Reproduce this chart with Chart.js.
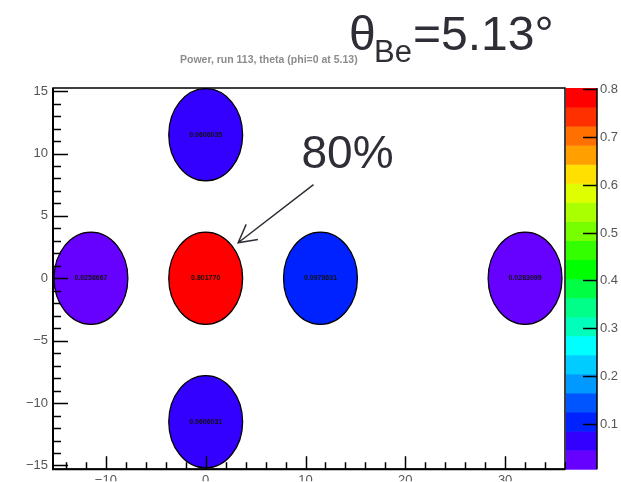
<!DOCTYPE html>
<html>
<head>
<meta charset="utf-8">
<script src="https://cdn.jsdelivr.net/npm/chart.js@4/dist/chart.umd.min.js"></script>
<style>
  body { margin: 0; background: #fff; }
  canvas { display: block; }
</style>
</head>
<body>
<canvas id="chart" width="621" height="482"></canvas>
<script>
// bin centres (cm) and contents
const xCenters = [0, -11.5, 0, 11.5, 32, 0];
const yCenters = [11.5, 0, 0, 0, 0, -11.5];
const zValues  = [0.0606035, 0.0258667, 0.801770, 0.0978631, 0.0283099, 0.0606031];
const binRadius = 3.7;

// colour palette, bottom band to top band
const zColors = ['#6600ff','#3300ff','#0022ff','#0055ff','#0099ff','#00ccff','#00ffff','#00ffbb',
                 '#00ff88','#00ff44','#00ff00','#33ff00','#77ff00','#aaff00','#ddff00','#ffe000',
                 '#ffa000','#ff7000','#ff3000','#ff0000'];
const zTicks = [0.1, 0.2, 0.3, 0.4, 0.5, 0.6, 0.7, 0.8];
const zMin = 0.006, zMax = 0.8018;

const FONT = '"Liberation Sans", Arial, Helvetica, sans-serif';

function bandOf(v) {
  let i = Math.floor((v - zMin) / (zMax - zMin) * zColors.length);
  return Math.max(0, Math.min(zColors.length - 1, i));
}
function fmtTick(v) {
  return v < 0 ? '\u2212' + Math.abs(v) : String(v);
}

const polyPlugin = {
  id: 'poly',
  beforeDatasetsDraw(chart) {
    const ctx = chart.ctx, a = chart.chartArea;
    const xs = chart.scales.x, ys = chart.scales.y;
    ctx.save();
    ctx.beginPath();
    ctx.rect(a.left, a.top, a.right - a.left, a.bottom - a.top);
    ctx.clip();
    xCenters.forEach((cx, i) => {
      const px = xs.getPixelForValue(cx), py = ys.getPixelForValue(yCenters[i]);
      const rx = Math.abs(xs.getPixelForValue(cx + binRadius) - px);
      const ry = Math.abs(ys.getPixelForValue(yCenters[i] + binRadius) - py);
      ctx.beginPath();
      ctx.ellipse(px, py, rx, ry, 0, 0, Math.PI * 2);
      ctx.fillStyle = zColors[bandOf(zValues[i])];
      ctx.fill();
      ctx.lineWidth = 1.3;
      ctx.strokeStyle = '#000';
      ctx.stroke();
      ctx.fillStyle = '#111';
      ctx.font = 'bold 7px ' + FONT;
      ctx.textAlign = 'center';
      ctx.textBaseline = 'middle';
      ctx.fillText(zValues[i].toPrecision(6), px, py);
    });
    ctx.restore();
  },
  afterDraw(chart) {
    const ctx = chart.ctx, a = chart.chartArea;
    const xs = chart.scales.x, ys = chart.scales.y, zs = chart.scales.z;
    ctx.save();
    ctx.strokeStyle = '#000';

    // frame
    ctx.lineWidth = 1.5;
    ctx.strokeRect(a.left, a.top, a.right - a.left, a.bottom - a.top);
    ctx.lineWidth = 2;
    ctx.beginPath();
    ctx.moveTo(a.left, a.top); ctx.lineTo(a.left, a.bottom); ctx.lineTo(a.right, a.bottom);
    ctx.stroke();

    // inward ticks, major + minor
    ctx.lineWidth = 1.5;
    ctx.beginPath();
    for (let v = Math.ceil(ys.min); v <= ys.max; v += 1) {
      const p = Math.round(ys.getPixelForValue(v)) + 0.5;
      const len = v % 5 === 0 ? 15 : 8;
      ctx.moveTo(a.left, p); ctx.lineTo(a.left + len, p);
    }
    for (let v = Math.ceil(xs.min / 2) * 2; v <= xs.max; v += 2) {
      const p = Math.round(xs.getPixelForValue(v)) + 0.5;
      const len = v % 10 === 0 ? 13 : 7;
      ctx.moveTo(p, a.bottom); ctx.lineTo(p, a.bottom - len);
    }
    ctx.stroke();

    // colour bar
    const bx0 = a.right + 1, bx1 = a.right + 32;
    const step = (zMax - zMin) / zColors.length;
    zColors.forEach((c, i) => {
      const y0 = zs.getPixelForValue(zMin + i * step);
      const y1 = zs.getPixelForValue(zMin + (i + 1) * step);
      ctx.fillStyle = c;
      ctx.fillRect(bx0, y1, bx1 - bx0, y0 - y1 + 0.5);
    });
    ctx.lineWidth = 1.5;
    ctx.beginPath();
    ctx.moveTo(bx1, a.top); ctx.lineTo(bx1, a.bottom);
    ctx.stroke();
    ctx.font = '13px ' + FONT;
    ctx.fillStyle = '#555';
    ctx.textAlign = 'left';
    ctx.textBaseline = 'middle';
    ctx.beginPath();
    zTicks.forEach(t => {
      const p = Math.round(zs.getPixelForValue(t)) + 0.5;
      ctx.moveTo(bx1, p); ctx.lineTo(bx1 - 14, p);
      ctx.fillText(t.toFixed(1), bx1 + 3, p);
    });
    ctx.stroke();

    // histogram title (small, washed out)
    ctx.fillStyle = '#8c8c8c';
    ctx.font = 'bold 10.5px ' + FONT;
    ctx.textAlign = 'left';
    ctx.textBaseline = 'alphabetic';
    ctx.fillText('Power, run 113, theta (phi=0 at 5.13)', 180, 63);

    // big label
    ctx.fillStyle = '#2e2e36';
    ctx.font = '48px ' + FONT;
    ctx.fillText('\u03b8', 349, 50);
    ctx.font = '31px ' + FONT;
    ctx.fillText('Be', 374, 62);
    ctx.font = '48px ' + FONT;
    ctx.fillText('=5.13\u00b0', 413, 50);

    // annotation arrow to the central bin
    const tipX = xs.getPixelForValue(3.25), tipY = ys.getPixelForValue(2.85);
    const tailX = xs.getPixelForValue(10.8), tailY = ys.getPixelForValue(7.5);
    ctx.font = '46px ' + FONT;
    ctx.fillText('80%', xs.getPixelForValue(9.6), ys.getPixelForValue(8.85));
    ctx.strokeStyle = '#2e2e36';
    ctx.lineWidth = 1.5;
    ctx.beginPath();
    ctx.moveTo(tailX, tailY); ctx.lineTo(tipX, tipY);
    const ang = Math.atan2(tipY - tailY, tipX - tailX);
    const hl = 20, ha = 0.5;
    ctx.moveTo(tipX - hl * Math.cos(ang - ha), tipY - hl * Math.sin(ang - ha));
    ctx.lineTo(tipX, tipY);
    ctx.lineTo(tipX - hl * Math.cos(ang + ha), tipY - hl * Math.sin(ang + ha));
    ctx.stroke();
    ctx.restore();
  }
};

const ctx = document.getElementById('chart').getContext('2d');
const myChart = new Chart(ctx, {
  type: 'scatter',
  data: {
    datasets: [{
      data: xCenters.map((x, i) => ({ x: x, y: yCenters[i] })),
      pointRadius: 0,
      pointHoverRadius: 0
    }]
  },
  options: {
    responsive: false,
    animation: false,
    devicePixelRatio: 1,
    events: [],
    layout: { padding: { left: 0, top: 88, right: 56, bottom: 0 } },
    plugins: { legend: { display: false }, tooltip: { enabled: false } },
    scales: {
      x: {
        type: 'linear',
        min: -15.3,
        max: 36,
        grid: { display: false, drawTicks: false },
        border: { display: false },
        ticks: {
          stepSize: 10,
          includeBounds: false,
          maxRotation: 0,
          padding: 3,
          color: '#555',
          font: { family: FONT, size: 13 },
          callback: v => fmtTick(v)
        },
        afterFit: s => { s.height = 12; }
      },
      y: {
        type: 'linear',
        min: -15.3,
        max: 15.25,
        grid: { display: false, drawTicks: false },
        border: { display: false },
        ticks: {
          stepSize: 5,
          includeBounds: false,
          padding: 5,
          color: '#555',
          font: { family: FONT, size: 13 },
          callback: v => fmtTick(v)
        },
        afterFit: s => { s.width = 53; }
      },
      z: {
        type: 'linear',
        position: 'right',
        display: false,
        min: zMin,
        max: zMax
      }
    }
  },
  plugins: [polyPlugin]
});
</script>
</body>
</html>
